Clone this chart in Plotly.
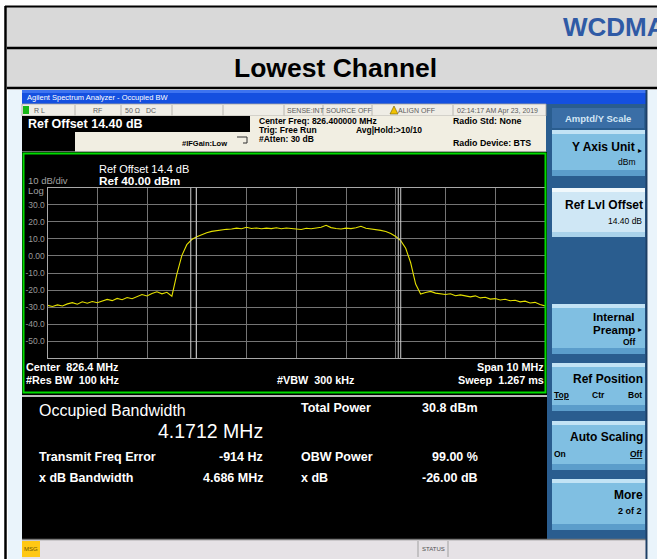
import plotly.graph_objects as go

W, H = 657, 559
FONT = "Liberation Sans, Arial, sans-serif"

# ---------------- data ----------------
center_mhz = 826.4
span_mhz = 10.0
ref_level_dbm = 40.0
db_per_div = 10.0
# trace amplitude (dBm) at 0.1 MHz steps across the span
trace_dbm = [
    -29.0, -29.6, -28.7, -29.3, -28.1, -27.4, -28.3, -26.9, -27.7, -26.7,
    -27.4, -26.3, -25.5, -26.2, -24.9, -25.7, -24.4, -25.1, -23.9, -22.6,
    -23.5, -22.0, -21.0, -22.2, -21.3, -23.6, -10.7, 0.2, 6.6, 9.6,
    11.3, 12.6, 13.6, 14.4, 14.9, 15.3, 15.6, 15.8, 16.3, 15.9,
    16.8, 16.1, 16.4, 15.9, 16.3, 16.0, 16.5, 15.9, 16.4, 16.1,
    15.9, 15.5, 16.2, 15.9, 16.4, 16.8, 18.0, 16.6, 16.1, 15.8,
    16.3, 16.0, 16.5, 17.4, 16.2, 15.9, 15.6, 15.0, 14.3, 13.2,
    11.4, 9.0, 4.5, -4.0, -16.5, -22.3, -21.4, -20.8, -21.8, -22.0,
    -22.6, -22.2, -23.3, -22.8, -23.6, -24.0, -23.4, -24.6, -24.2, -25.3,
    -25.0, -25.8, -25.4, -26.3, -26.0, -26.9, -26.5, -27.6, -27.2, -28.5,
    -29.3,
]
n_pts = len(trace_dbm)
f_start = center_mhz - span_mhz / 2
f_step = span_mhz / (n_pts - 1)
trace_freq = [f_start + i * f_step for i in range(n_pts)]

# OBW / x-dB marker lines (MHz)
marker_freqs = [824.28, 824.39, 828.45, 828.50]

y_tick_vals = [30, 20, 10, 0, -10, -20, -30, -40, -50]
y_tick_text = ["30.0", "20.0", "10.0", "0.00", "-10.0", "-20.0", "-30.0", "-40.0", "-50.0"]

# ---------------- helpers ----------------
shapes, annotations = [], []


def px(x):
    return x / W


def py(y):
    return 1 - y / H


def rect(x0, y0, x1, y1, fill, line_color=None, lw=0, layer="below"):
    shapes.append(dict(type="rect", xref="paper", yref="paper",
                       x0=px(x0), x1=px(x1), y0=py(y1), y1=py(y0),
                       fillcolor=fill, layer=layer,
                       line=dict(color=line_color or fill, width=lw)))


def hline(x0, x1, y, color, lw=1, layer="below"):
    shapes.append(dict(type="line", xref="paper", yref="paper",
                       x0=px(x0), x1=px(x1), y0=py(y), y1=py(y),
                       line=dict(color=color, width=lw), layer=layer))


def vline(x, y0, y1, color, lw=1, layer="below"):
    shapes.append(dict(type="line", xref="paper", yref="paper",
                       x0=px(x), x1=px(x), y0=py(y0), y1=py(y1),
                       line=dict(color=color, width=lw), layer=layer))


def text(x, y, s, size, color="white", bold=False, xanchor="left"):
    annotations.append(dict(x=px(x), y=py(y), xref="paper", yref="paper",
                            text=f"<b>{s}</b>" if bold else s, showarrow=False,
                            xanchor=xanchor, yanchor="middle", borderpad=0,
                            font=dict(size=size, color=color, family=FONT)))


# ---------------- page / document frame ----------------
rect(8, 90, 22, 559, "#eaf4fb")
rect(648, 90, 657, 559, "#eaf4fb")
rect(7, 7, 657, 47, "#d9d9d9")
rect(7, 49, 657, 87, "#d9d9d9")
hline(5, 657, 6.5, "black", 2)
hline(7, 657, 48, "black", 2.5)
hline(7, 657, 88, "black", 2.5)
vline(5.5, 6, 559, "black", 2.5)
text(562, 27, "WCDMA", 26, "#2f5aa5", bold=True)
text(335, 68, "Lowest Channel", 26.5, "black", bold=True, xanchor="center")

# ---------------- analyzer window ----------------
rect(22, 90, 646, 559, "#2a5d8f")           # window base (softkey panel blue)
rect(22, 90, 646, 104, "#1450e0")           # title bar
rect(22, 90, 646, 93, "#3d74f0")
text(26, 97, "Agilent Spectrum Analyzer - Occupied BW", 7.5, "white")

# status row
rect(22, 104, 546, 116, "#efede6", "#a9a6a0", 0.8)
for xd in [75, 121, 172, 223, 284, 323, 372, 453]:
    vline(xd, 105, 115.5, "#a9a6a0", 0.8)
rect(23, 106, 29, 114, "#18b818")
for xs, s in [(33, "R L"), (92, "RF"), (124, "50 Ω"), (145, "DC"),
              (286, "SENSE:INT"), (325, "SOURCE OFF"), (397, "ALIGN OFF"),
              (456, "02:14:17 AM Apr 23, 2019")]:
    text(xs, 110.5, s, 7, "#5c5c5c")
shapes.append(dict(type="path", xref="paper", yref="paper",
                   path=f"M {px(390)},{py(114)} L {px(394)},{py(106)} L {px(398)},{py(114)} Z",
                   fillcolor="#f2c200", line=dict(color="#6b5a00", width=0.6), layer="below"))

# info panel
rect(22, 116, 546, 152, "#f1eee2")
rect(22, 116, 250, 132, "black")
rect(22, 132, 75, 152, "black")
hline(22, 546, 152, "#8a8a8a", 1.5)
text(27, 124, "Ref Offset 14.40 dB", 12.5, "white", bold=True)
text(258, 120.5, "Center Freq: 826.400000 MHz", 8.5, "black", bold=True)
text(258, 129.5, "Trig: Free Run", 8.5, "black", bold=True)
text(355, 129.5, "Avg|Hold:>10/10", 8.5, "black", bold=True)
text(258, 138.5, "#Atten: 30 dB", 8.5, "black", bold=True)
text(181, 143.5, "#IFGain:Low", 7.5, "black", bold=True)
text(452, 120.5, "Radio Std: None", 8.8, "black", bold=True)
text(452, 143, "Radio Device: BTS", 8.8, "black", bold=True)
shapes.append(dict(type="path", xref="paper", yref="paper",
                   path=(f"M {px(237)},{py(137)} L {px(247)},{py(137)} L {px(247)},{py(143)} "
                         f"L {px(243)},{py(143)}"),
                   line=dict(color="#303030", width=1), layer="below"))

# screen (trace window)
rect(22, 152, 547, 395, "black")
rect(23.5, 153.5, 545.5, 392.5, "rgba(0,0,0,0)", "#00dc00", 2, layer="above")
text(27, 180.5, "10 dB/div", 9.5, "#a0a0a0")
text(27, 190, "Log", 9.5, "#a0a0a0")
text(98, 169, "Ref Offset 14.4 dB", 11, "white")
text(98, 181, "Ref 40.00 dBm", 11.8, "white", bold=True)
text(25, 367, "Center&nbsp; 826.4 MHz", 10.8, "white", bold=True)
text(25, 380, "#Res BW&nbsp; 100 kHz", 10.8, "white", bold=True)
text(276, 380, "#VBW&nbsp; 300 kHz", 10.8, "white", bold=True)
text(545, 367, "Span 10 MHz", 10.8, "white", bold=True, xanchor="right")
text(545, 380, "Sweep&nbsp; 1.267 ms", 10.8, "white", bold=True, xanchor="right")

# results panel
hline(22, 547, 396, "#bdbdbd", 2)
rect(22, 397, 547, 539, "black")
text(38, 410, "Occupied Bandwidth", 16, "white")
text(264, 431, "4.1712 MHz", 19.5, "white", xanchor="right")
text(300, 408, "Total Power", 12.5, "white", bold=True)
text(479, 408, "30.8 dBm", 12.5, "white", bold=True, xanchor="right")
text(38, 457, "Transmit Freq Error", 12.5, "white", bold=True)
text(264, 457, "-914 Hz", 12.5, "white", bold=True, xanchor="right")
text(300, 457, "OBW Power", 12.5, "white", bold=True)
text(479, 457, "99.00 %", 12.5, "white", bold=True, xanchor="right")
text(38, 478, "x dB Bandwidth", 12.5, "white", bold=True)
text(264, 478, "4.686 MHz", 12.5, "white", bold=True, xanchor="right")
text(300, 478, "x dB", 12.5, "white", bold=True)
text(479, 478, "-26.00 dB", 12.5, "white", bold=True, xanchor="right")

# bottom status bar
rect(22, 539, 646, 559, "#e6e2e6")
hline(22, 646, 539.5, "#7a7a7a", 1.5)
rect(22, 541, 40, 557, "#ffc814")
text(31, 549, "MSG", 6, "#6b5200", xanchor="center")
vline(418, 541, 557, "#a0a0a0", 1)
vline(448, 541, 557, "#a0a0a0", 1)
text(433, 549, "STATUS", 6, "#505050", xanchor="center")

# softkey panel
vline(646.5, 90, 559, "#1c3f66", 2)
rect(552, 108, 644, 128, "#3a6ea6")
text(598, 118, "Amptd/Y Scale", 9.5, "#d3e6f5", bold=True, xanchor="center")


def button(y0, y1, light=False):
    if light:
        rect(552, y0, 645, y1, "#cfe7f5")
        rect(552, y0, 645, y0 + 4, "#f0f8fc")
        rect(552, y1 - 5, 645, y1, "#a9d2ea")
    else:
        rect(552, y0, 645, y1, "#80bfe2")
        rect(552, y0, 645, y0 + 4, "#c2e3f5")
        rect(552, y1 - 6, 645, y1, "#5b9dcb")


button(130, 176)
button(188, 237, light=True)
button(304, 354)
button(363, 411)
button(421, 470)
button(479, 530)

text(636, 147, "Y Axis Unit", 12, "black", bold=True, xanchor="right")
text(637, 150, "▸", 8, "black", xanchor="left")
text(636, 162, "dBm", 8.5, "black", xanchor="right")
text(644, 205, "Ref Lvl Offset", 12, "black", bold=True, xanchor="right")
text(643, 221, "14.40 dB", 8.5, "black", xanchor="right")
text(636, 316.5, "Internal", 11.5, "black", bold=True, xanchor="right")
text(636, 329.5, "Preamp", 11.5, "black", bold=True, xanchor="right")
text(637, 329.5, "▸", 8, "black", xanchor="left")
text(636, 341.5, "Off", 8.5, "black", bold=True, xanchor="right")
text(644, 379, "Ref Position", 12, "black", bold=True, xanchor="right")
text(553, 395, "<u>Top</u>", 8.5, "black", bold=True)
text(598, 395, "Ctr", 8.5, "black", bold=True, xanchor="center")
text(643, 395, "Bot", 8.5, "black", bold=True, xanchor="right")
text(644, 437, "Auto Scaling", 12, "black", bold=True, xanchor="right")
text(553, 454, "On", 8.5, "black", bold=True)
text(643, 454, "<u>Off</u>", 8.5, "black", bold=True, xanchor="right")
text(644, 495, "More", 12, "black", bold=True, xanchor="right")
text(643, 511, "2 of 2", 9, "black", bold=True, xanchor="right")

# marker lines in data coordinates
for f in marker_freqs:
    shapes.append(dict(type="line", xref="x", yref="y", x0=f, x1=f,
                       y0=ref_level_dbm - 10 * db_per_div, y1=ref_level_dbm + 1,
                       line=dict(color="#cfcfcf", width=1), layer="above"))
shapes.append(dict(type="line", xref="x", yref="y", x0=marker_freqs[0], x1=marker_freqs[-1],
                   y0=ref_level_dbm + 1, y1=ref_level_dbm + 1,
                   line=dict(color="#cfcfcf", width=1), layer="above"))

# ---------------- figure ----------------
fig = go.Figure()
fig.add_trace(go.Scatter(x=trace_freq, y=trace_dbm, mode="lines",
                         line=dict(color="#e4e000", width=1.1),
                         hoverinfo="skip", showlegend=False))

fig.update_layout(
    width=W, height=H, margin=dict(l=0, r=0, t=0, b=0),
    paper_bgcolor="white", plot_bgcolor="black",
    showlegend=False,
    shapes=shapes, annotations=annotations,
    xaxis=dict(domain=[px(47.5), px(545)],
               range=[f_start, f_start + span_mhz],
               tick0=f_start, dtick=span_mhz / 10,
               showgrid=True, gridcolor="#747474", gridwidth=1,
               showticklabels=False, ticks="", zeroline=False,
               showline=True, linecolor="#a8a8a8", linewidth=1, mirror=True),
    yaxis=dict(domain=[py(358.3), py(187.7)],
               range=[ref_level_dbm - 10 * db_per_div, ref_level_dbm],
               tickvals=y_tick_vals, ticktext=y_tick_text,
               tickfont=dict(size=8.5, color="#9a9a9a", family=FONT),
               showgrid=True, gridcolor="#747474", gridwidth=1,
               ticks="", zeroline=False,
               showline=True, linecolor="#a8a8a8", linewidth=1, mirror=True),
)

fig.write_html("out.html", config={"displayModeBar": False},
               post_script="document.body.style.margin='0';document.body.style.overflow='hidden';")
